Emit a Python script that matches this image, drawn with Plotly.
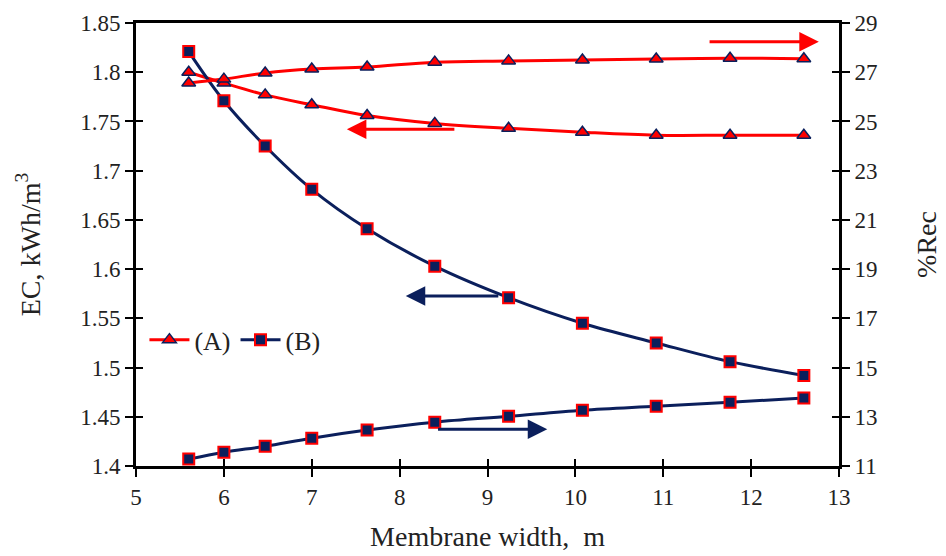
import plotly.graph_objects as go

width_m = [5.6, 6.0, 6.47, 7.0, 7.63, 8.4, 9.24, 10.08, 10.92, 11.76, 12.6]
ec_A = [1.800, 1.789, 1.777, 1.767, 1.756, 1.748, 1.743, 1.739, 1.736, 1.736, 1.736]
rec_A = [26.56, 26.72, 26.97, 27.13, 27.21, 27.41, 27.46, 27.50, 27.54, 27.57, 27.55]
ec_B = [1.821, 1.771, 1.725, 1.681, 1.641, 1.603, 1.571, 1.545, 1.525, 1.506, 1.492]
rec_B = [11.28, 11.56, 11.80, 12.13, 12.46, 12.78, 13.02, 13.27, 13.43, 13.59, 13.76]

x_ticks = [5, 6, 7, 8, 9, 10, 11, 12, 13]
y1_ticks = [1.4, 1.45, 1.5, 1.55, 1.6, 1.65, 1.7, 1.75, 1.8, 1.85]
y1_labels = ["1.4", "1.45", "1.5", "1.55", "1.6", "1.65", "1.7", "1.75", "1.8", "1.85"]
y2_ticks = [11, 13, 15, 17, 19, 21, 23, 25, 27, 29]

RED = "#ff0000"
NAVY = "#0b1f5c"
FONT = "Liberation Serif, Times New Roman, serif"

fig = go.Figure()

tri = dict(symbol="triangle-up", size=12, color=RED, line=dict(color=NAVY, width=1.5))
sq = dict(symbol="square", size=11, color=NAVY, line=dict(color=RED, width=2))

# empty helper traces so the inner-tick overlay axes get drawn
fig.add_trace(go.Scatter(x=[None], y=[None], xaxis="x2", yaxis="y3", showlegend=False, hoverinfo="skip"))
fig.add_trace(go.Scatter(x=[None], y=[None], xaxis="x2", yaxis="y4", showlegend=False, hoverinfo="skip"))

fig.add_trace(go.Scatter(x=width_m, y=ec_A, mode="lines+markers", name="(A)",
                         line=dict(color=RED, width=3, shape="spline"), marker=tri))
fig.add_trace(go.Scatter(x=width_m, y=ec_B, mode="lines+markers", name="(B)",
                         line=dict(color=NAVY, width=3, shape="spline"), marker=sq))
fig.add_trace(go.Scatter(x=width_m, y=rec_A, mode="lines+markers", name="(A)", showlegend=False,
                         line=dict(color=RED, width=3, shape="spline"), marker=tri, yaxis="y2"))
fig.add_trace(go.Scatter(x=width_m, y=rec_B, mode="lines+markers", name="(B)", showlegend=False,
                         line=dict(color=NAVY, width=3, shape="spline"), marker=sq, yaxis="y2"))

arrows = [
    (8.64, 1.742, 7.40, 1.742, RED),
    (11.51, 1.831, 12.77, 1.831, RED),
    (9.14, 1.5726, 8.07, 1.5726, NAVY),
    (8.42, 1.4374, 9.68, 1.4374, NAVY),
]
for x0, y0, x1, y1, c in arrows:
    fig.add_annotation(x=x1, y=y1, ax=x0, ay=y0, xref="x", yref="y", axref="x", ayref="y",
                       showarrow=True, arrowhead=2, arrowsize=1.3, arrowwidth=3, arrowcolor=c, text="")

tickfont = dict(family=FONT, size=23, color="#222222")
titlefont = dict(family=FONT, size=28, color="#222222")
inner = dict(showgrid=False, zeroline=False, showline=False, showticklabels=False,
             ticks="inside", ticklen=7, tickwidth=2, tickcolor="black", automargin=False)

fig.update_layout(
    width=946, height=556,
    margin=dict(l=128, r=115, t=15, b=98, autoexpand=False),
    paper_bgcolor="white", plot_bgcolor="white",
    showlegend=True,
    font=dict(family=FONT),
    legend=dict(x=0.012, y=0.285, xanchor="left", yanchor="middle", orientation="h",
                font=dict(family=FONT, size=26, color="#222222"), bgcolor="rgba(0,0,0,0)",
                itemwidth=40, tracegroupgap=0),
    xaxis=dict(range=[5, 13], tickvals=x_ticks, showgrid=False, zeroline=False,
               showline=True, linecolor="black", linewidth=3, mirror=True,
               ticks="outside", ticklen=8, tickwidth=2, tickcolor="black",
               tickfont=tickfont, automargin=False,
               title=dict(text="Membrane width,  m", font=titlefont, standoff=18)),
    yaxis=dict(range=[1.4, 1.85], tickvals=y1_ticks, ticktext=y1_labels, showgrid=False, zeroline=False,
               showline=True, linecolor="black", linewidth=3,
               ticks="outside", ticklen=8, tickwidth=2, tickcolor="black",
               tickfont=tickfont, automargin=False,
               title=dict(text="EC, kWh/m<sup>3</sup>", font=titlefont, standoff=32)),
    yaxis2=dict(range=[11, 29], tickvals=y2_ticks, overlaying="y", side="right",
                showgrid=False, zeroline=False,
                showline=True, linecolor="black", linewidth=3,
                ticks="outside", ticklen=8, tickwidth=2, tickcolor="black",
                tickfont=tickfont, automargin=False,
                title=dict(text="%Rec", font=titlefont, standoff=40)),
    xaxis2=dict(range=[5, 13], tickvals=x_ticks, overlaying="x", side="bottom", anchor="y", **inner),
    yaxis3=dict(range=[1.4, 1.85], tickvals=y1_ticks, overlaying="y", side="left", anchor="x", **inner),
    yaxis4=dict(range=[11, 29], tickvals=y2_ticks, overlaying="y", side="right", anchor="x", **inner),
)

fig.write_html("out.html")
